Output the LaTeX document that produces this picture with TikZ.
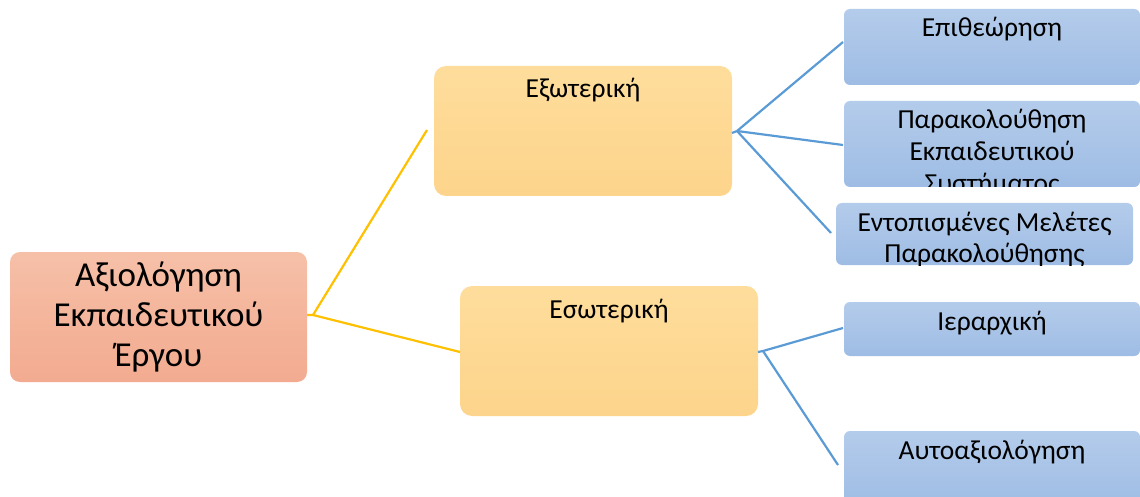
\documentclass[tikz,border=0pt]{standalone}
\usepackage{fontspec}
\setmainfont{Carlito}
\usetikzlibrary{calc}
\definecolor{rootTop}{RGB}{246,192,168}
\definecolor{rootBot}{RGB}{242,171,144}
\definecolor{midTop}{RGB}{254,221,156}
\definecolor{midBot}{RGB}{253,212,139}
\definecolor{leafTop}{RGB}{180,204,235}
\definecolor{leafBot}{RGB}{158,188,228}
\definecolor{linkYellow}{RGB}{255,192,0}
\definecolor{linkBlue}{RGB}{91,155,213}
\tikzset{
  box/.style={inner sep=0pt, outer sep=0pt, draw=none},
  rootbox/.style={box, rounded corners=10pt, top color=rootTop, bottom color=rootBot},
  midbox/.style={box, rounded corners=12pt, top color=midTop, bottom color=midBot},
  leafbox/.style={box, rounded corners=6pt, top color=leafTop, bottom color=leafBot},
  % text hung from the top of a box, its first baseline #1 below the top edge,
  % clipped by the box outline
  toptext/.style={path picture={
      \node[anchor=base, inner sep=0pt]
        at ([yshift=-#1]path picture bounding box.north)
        {\parbox[t]{290pt}{\centering\fontsize{27.5}{32}\selectfont\boxtext}};}},
  yellowlink/.style={draw=linkYellow, line width=2.2pt},
  bluelink/.style={draw=linkBlue, line width=2.2pt},
}
\newcommand{\boxtext}{}
\newcommand{\leafbox}[6]{% name, x, y, w, h, text
  \renewcommand{\boxtext}{#6}%
  \node[leafbox, toptext=28pt, minimum width=#4pt, minimum height=#5pt] (#1) at (#2,#3) {};}
\newcommand{\midbox}[6]{%
  \renewcommand{\boxtext}{#6}%
  \node[midbox, toptext=32pt, minimum width=#4pt, minimum height=#5pt] (#1) at (#2,#3) {};}
\begin{document}
\begin{tikzpicture}[x=1pt, y=-1pt]
  \useasboundingbox (0,0) rectangle (1140,497);

  % root
  \node[rootbox, minimum width=297pt, minimum height=130pt,
        align=center, font=\fontsize{35}{40}\selectfont] (root) at (158.5,317)
        {Αξιολόγηση\\Εκπαιδευτικού\\Έργου};

  % second level
  \midbox{ext}{583}{131}{298}{130}{Εξωτερική}
  \midbox{int}{609}{351}{298}{130}{Εσωτερική}

  % leaves
  \leafbox{epi}{992}{47}{296}{76}{Επιθεώρηση}
  \leafbox{par}{992}{144}{296}{86}{Παρακολούθηση\\Εκπαιδευτικού\\Συστήματος}
  \leafbox{ent}{984.5}{234}{297}{62}{Εντοπισμένες Μελέτες\\Παρακολούθησης}
  \leafbox{ier}{992}{329}{296}{54}{Ιεραρχική}
  \leafbox{aut}{992}{469}{296}{76}{Αυτοαξιολόγηση}

  % junctions and free ends of the connectors
  \coordinate (j0) at (313,315);
  \coordinate (e0) at (427,130);
  \coordinate (j1) at (737,131);
  \coordinate (j2) at (763,351);
  \coordinate (e1) at (843,42);
  \coordinate (e2) at (843,145);
  \coordinate (e3) at (831,233);
  \coordinate (e4) at (843,328);
  \coordinate (e5) at (838,465);

  % connectors
  \draw[yellowlink] (root.east |- j0) -- (j0) -- (e0);
  \draw[yellowlink] (j0) -- (int.west |- 0,352);
  \draw[bluelink] (ext.east |- 0,133) -- (j1);
  \draw[bluelink] (j1) -- (e1);
  \draw[bluelink] (j1) -- (e2);
  \draw[bluelink] (j1) -- (e3);
  \draw[bluelink] (int.east |- 0,352) -- (j2) -- (e4);
  \draw[bluelink] (j2) -- (e5);
\end{tikzpicture}
\end{document}
